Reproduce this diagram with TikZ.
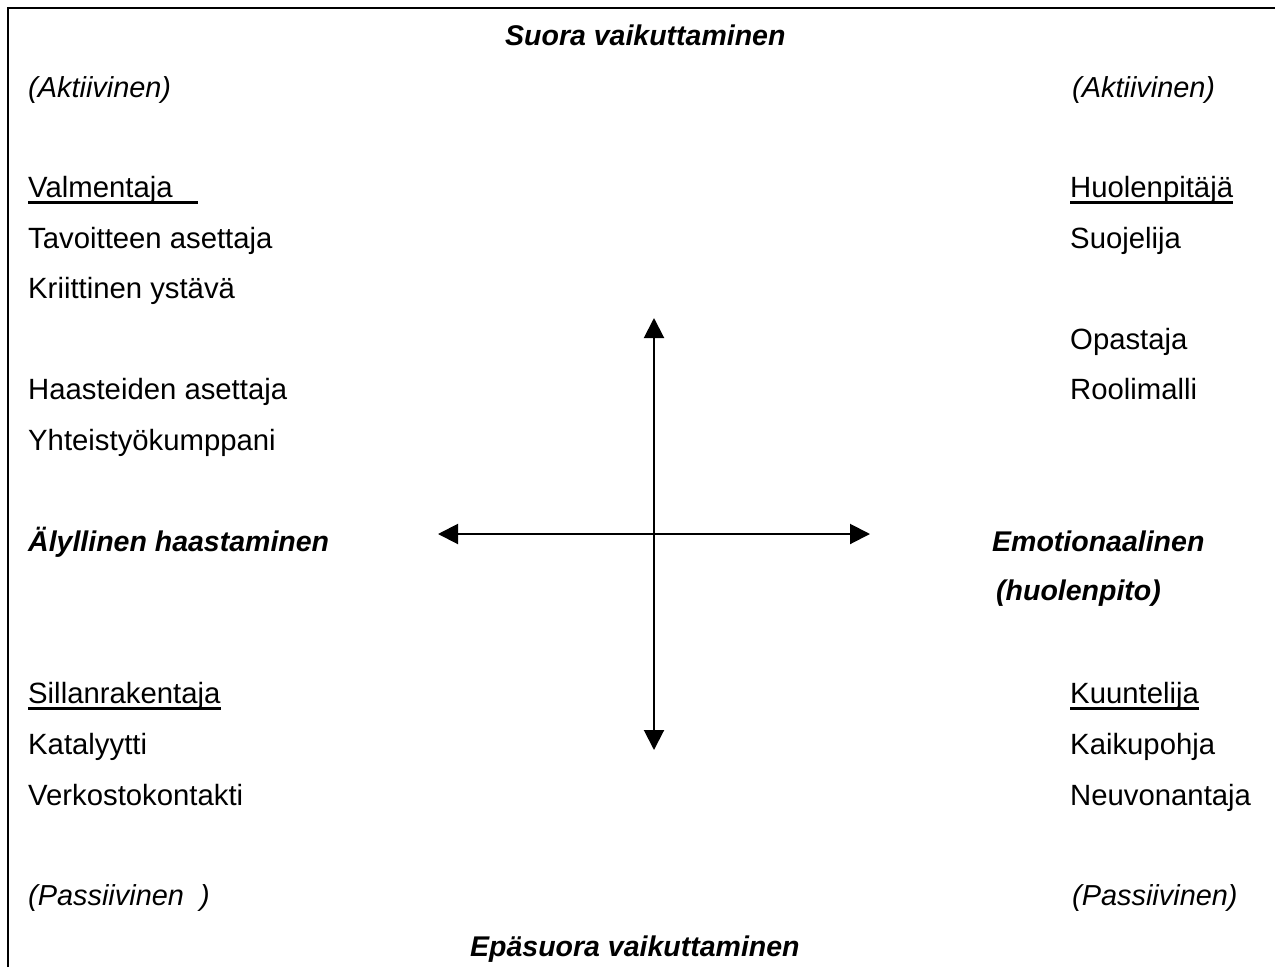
\documentclass[tikz,border=0pt]{standalone}
\usepackage{fontspec}
\setmainfont{Liberation Sans}
\usetikzlibrary{arrows.meta}
\begin{document}
\begin{tikzpicture}[x=1pt,y=-1pt,
  lbl/.style={anchor=base west,inner sep=0pt,font=\fontsize{29.3}{35}\selectfont},
  head/.style={lbl,font=\fontsize{28.5}{34}\selectfont\bfseries\itshape},
  note/.style={lbl,font=\fontsize{28.9}{34}\selectfont\itshape},
  uline/.style={line width=2.6pt},
  axis/.style={line width=2pt,{Triangle[length=20pt,width=20pt]}-{Triangle[length=20pt,width=20pt]}}]
\useasboundingbox (0,0) rectangle (1275,967);
\fill[white] (0,0) rectangle (1275,967);
% frame (open to the right and bottom)
\draw[line width=2pt] (8,967) -- (8,8) -- (1275,8);

% poles of the vertical axis
\node[head] (top) at (505,45) {Suora vaikuttaminen};
\node[head] (bottom) at (470,956) {Epäsuora vaikuttaminen};
\node[note] (actL) at (28,97) {(Aktiivinen)};
\node[note] (actR) at (1072,97) {(Aktiivinen)};
\node[note] (pasL) at (28,905) {(Passiivinen\ \ )};
\node[note] (pasR) at (1072,905) {(Passiivinen)};

% poles of the horizontal axis
\node[head] (intel) at (28,551) {Älyllinen haastaminen};
\node[head] (emo) at (992,551) {Emotionaalinen};
\node[head] (emo2) at (996,600) {(huolenpito)};

% upper left quadrant
\node[lbl] (coach) at (28,197) {Valmentaja\hspace*{25pt}};
\node[lbl] (goal) at (28,248) {Tavoitteen asettaja};
\node[lbl] (friend) at (28,298) {Kriittinen ystävä};
\node[lbl] (chal) at (28,399) {Haasteiden asettaja};
\node[lbl] (partner) at (28,450) {Yhteistyökumppani};

% upper right quadrant
\node[lbl] (carer) at (1070,197) {Huolenpitäjä};
\node[lbl] (protect) at (1070,248) {Suojelija};
\node[lbl] (guide) at (1070,349) {Opastaja};
\node[lbl] (model) at (1070,399) {Roolimalli};

% lower left quadrant
\node[lbl] (bridge) at (28,703) {Sillanrakentaja};
\node[lbl] (cata) at (28,754) {Katalyytti};
\node[lbl] (net) at (28,805) {Verkostokontakti};

% lower right quadrant
\node[lbl] (listen) at (1070,703) {Kuuntelija};
\node[lbl] (sound) at (1070,754) {Kaikupohja};
\node[lbl] (advise) at (1070,805) {Neuvonantaja};

% underlined group headings
\foreach \n in {coach,carer,bridge,listen}
  \draw[uline] ([yshift=-5.5pt]\n.base west) -- ([yshift=-5.5pt]\n.base east);

% axes
\coordinate (xl) at (438,534);
\coordinate (xr) at (870,534);
\coordinate (yt) at (654,318);
\coordinate (yb) at (654,750);
\draw[axis] (xl) -- (xr);
\draw[axis] (yt) -- (yb);
\end{tikzpicture}
\end{document}
